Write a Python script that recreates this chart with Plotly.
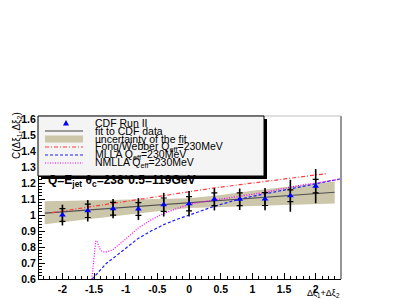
import plotly.graph_objects as go

# ---------------- data ----------------
x_pts = [-2.0, -1.6, -1.2, -0.8, -0.4, 0.0, 0.4, 0.8, 1.2, 1.6, 2.0]
c_pts = [1.000, 1.027, 1.040, 1.038, 1.065, 1.071, 1.099, 1.099, 1.100, 1.121, 1.181]
err_tot = [0.065, 0.067, 0.060, 0.068, 0.074, 0.080, 0.070, 0.067, 0.070, 0.100, 0.107]
err_stat = [0.040, 0.042, 0.040, 0.040, 0.042, 0.045, 0.040, 0.040, 0.040, 0.037, 0.042]

fit_x = [-2.28, 2.30]
fit_y = [1.012, 1.143]

band_x = [-2.28, -1.6, -1.0, -0.5, 0.0, 0.5, 1.0, 1.6, 2.30]
band_hi = [1.087, 1.091, 1.096, 1.100, 1.106, 1.126, 1.152, 1.180, 1.210]
band_lo = [0.942, 0.970, 1.000, 1.024, 1.044, 1.051, 1.057, 1.064, 1.073]

fw_x = [-2.17, -1.6, -1.2, -0.8, -0.4, 0.0, 0.4, 0.8, 1.2, 1.6, 2.18]
fw_y = [1.015, 1.050, 1.075, 1.097, 1.123, 1.148, 1.170, 1.190, 1.210, 1.228, 1.260]

mlla_x = [-1.53, -1.4, -1.3, -1.2, -1.0, -0.8, -0.6, -0.4, -0.2, 0.0, 0.2, 0.4,
          0.6, 0.8, 1.0, 1.2, 1.4, 1.6, 1.8, 2.0, 2.2, 2.4]
mlla_y = [0.600, 0.660, 0.700, 0.730, 0.795, 0.855, 0.900, 0.940, 0.972, 1.000,
          1.028, 1.055, 1.078, 1.100, 1.117, 1.133, 1.150, 1.167, 1.183, 1.198,
          1.213, 1.227]

nmlla_x = [-1.535, -1.52, -1.505, -1.49, -1.475, -1.46, -1.445, -1.43, -1.41, -1.38,
           -1.34, -1.3, -1.25, -1.2, -1.1, -1.0, -0.9, -0.8, -0.6, -0.4, -0.2, 0.0,
           0.2, 0.4, 0.6, 0.8, 1.0, 1.2, 1.4, 1.6, 1.8, 2.0, 2.2, 2.4]
nmlla_y = [0.600, 0.660, 0.730, 0.800, 0.835, 0.840, 0.830, 0.810, 0.790, 0.775,
           0.770, 0.770, 0.775, 0.785, 0.815, 0.850, 0.885, 0.920, 0.970, 1.010,
           1.040, 1.067, 1.082, 1.094, 1.106, 1.117, 1.130, 1.142, 1.160, 1.177,
           1.190, 1.200, 1.213, 1.226]

x_tickvals = [-2, -1.5, -1, -0.5, 0, 0.5, 1, 1.5, 2]
x_ticktext = ["-2", "-1.5", "-1", "-0.5", "0", "0.5", "1", "1.5", "2"]
y_tickvals = [0.6, 0.7, 0.8, 0.9, 1.0, 1.1, 1.2, 1.3, 1.4, 1.5, 1.6]
y_ticktext = ["0.6", "0.7", "0.8", "0.9", "1", "1.1", "1.2", "1.3", "1.4", "1.5", "1.6"]

legend_labels = [
    "CDF Run II",
    "fit to CDF data",
    "uncertainty of the fit",
    "Fong/Webber Q<sub>eff</sub>=230MeV",
    "MLLA Q<sub>eff</sub>=230MeV",
    "NMLLA Q<sub>eff</sub>=230MeV",
]

# ---------------- styles ----------------
RED = "rgb(255,60,60)"
BLUE = "rgb(30,30,255)"
MAG = "rgb(255,0,255)"
BAND = "rgb(204,198,170)"
FIT = "rgb(80,80,80)"
FONT = "Liberation Sans, Arial, sans-serif"

# page body margin offsets the figure by 8 px; positions below are page pixels
OFF = 8
W, H = 409 - OFF, 300 - OFF
L, R, T, B = 39, 341, 116, 279   # plot frame in page pixels


def px(x):
    return (x - L) / (R - L)


def py(y):
    return (B - y) / (B - T)


fig = go.Figure()

fig.add_trace(go.Scatter(
    x=band_x + band_x[::-1], y=band_hi + band_lo[::-1],
    fill="toself", fillcolor=BAND, line=dict(width=0), mode="lines",
    hoverinfo="skip", showlegend=False))

fig.add_trace(go.Scatter(x=fit_x, y=fit_y, mode="lines",
                         line=dict(color=FIT, width=1.2), showlegend=False))

fig.add_trace(go.Scatter(x=fw_x, y=fw_y, mode="lines",
                         line=dict(color=RED, width=1.2, dash="4px,2px,1px,2px"),
                         showlegend=False))
fig.add_trace(go.Scatter(x=mlla_x, y=mlla_y, mode="lines",
                         line=dict(color=BLUE, width=1.2, dash="3px,2px"),
                         showlegend=False))
fig.add_trace(go.Scatter(x=nmlla_x, y=nmlla_y, mode="lines",
                         line=dict(color=MAG, width=1.2, dash="1px,1.5px"),
                         showlegend=False))

fig.add_trace(go.Scatter(
    x=x_pts, y=c_pts, mode="markers",
    marker=dict(size=1, color="rgba(0,0,0,0)"),
    error_y=dict(type="data", array=err_tot, color="black", thickness=1.6, width=0),
    showlegend=False))
fig.add_trace(go.Scatter(
    x=x_pts, y=c_pts, mode="markers",
    marker=dict(size=1, color="rgba(0,0,0,0)"),
    error_y=dict(type="data", array=err_stat, color="black", thickness=1.2, width=3),
    showlegend=False))
fig.add_trace(go.Scatter(
    x=x_pts, y=c_pts, mode="markers",
    marker=dict(symbol="triangle-up", size=6, color="rgb(0,0,255)",
                line=dict(width=0)),
    showlegend=False))

shapes = []
# frame right / top
shapes.append(dict(type="line", xref="paper", yref="paper", x0=1, x1=1, y0=0, y1=1,
                   line=dict(color="rgb(150,150,150)", width=2)))
shapes.append(dict(type="line", xref="paper", yref="paper", x0=0, x1=1, y0=1, y1=1,
                   line=dict(color="rgb(190,190,190)", width=1)))
# legend box with shadow
shapes.append(dict(type="rect", xref="paper", yref="paper",
                   x0=px(41), x1=px(267), y0=py(179), y1=py(119),
                   fillcolor="black", line=dict(width=0)))
shapes.append(dict(type="rect", xref="paper", yref="paper",
                   x0=px(38), x1=px(264), y0=py(176), y1=py(116),
                   fillcolor="rgb(244,244,244)", line=dict(color="black", width=1)))

rows = [123, 131, 139, 147, 155, 163]
sx0, sx1 = 45, 83
tx, ty = 66, rows[0]
shapes.append(dict(type="path", xref="paper", yref="paper",
                   path=f"M {px(tx-3)},{py(ty+2.5)} L {px(tx+3)},{py(ty+2.5)} L {px(tx)},{py(ty-3)} Z",
                   fillcolor="rgb(0,0,255)", line=dict(width=0)))
shapes.append(dict(type="line", xref="paper", yref="paper",
                   x0=px(sx0), x1=px(sx1), y0=py(rows[1]), y1=py(rows[1]),
                   line=dict(color="rgb(155,155,155)", width=2)))
shapes.append(dict(type="rect", xref="paper", yref="paper",
                   x0=px(sx0), x1=px(sx1), y0=py(rows[2] + 3.5), y1=py(rows[2] - 3.5),
                   fillcolor=BAND, line=dict(width=0)))
shapes.append(dict(type="line", xref="paper", yref="paper",
                   x0=px(sx0), x1=px(sx1), y0=py(rows[3]), y1=py(rows[3]),
                   line=dict(color=RED, width=1.2, dash="4px,2px,1px,2px")))
shapes.append(dict(type="line", xref="paper", yref="paper",
                   x0=px(sx0), x1=px(sx1), y0=py(rows[4]), y1=py(rows[4]),
                   line=dict(color=BLUE, width=1.2, dash="3px,2px")))
shapes.append(dict(type="line", xref="paper", yref="paper",
                   x0=px(sx0), x1=px(sx1), y0=py(rows[5]), y1=py(rows[5]),
                   line=dict(color=MAG, width=1.2, dash="1px,1.5px")))

annotations = []
for lab, ry in zip(legend_labels, rows):
    annotations.append(dict(text=lab, xref="paper", yref="paper", x=px(93), y=py(ry),
                            xanchor="left", yanchor="middle", showarrow=False,
                            font=dict(family=FONT, size=10.5, color="black")))

annotations.append(dict(
    text="Q=E<sub>jet</sub> θ<sub>c</sub>=238*0.5=119GeV", xref="paper", yref="paper",
    x=px(46), y=py(181), xanchor="left", yanchor="middle", showarrow=False,
    font=dict(family=FONT, size=12, color="black", weight="bold")))

annotations.append(dict(
    text="C(Δξ<sub>1</sub>,Δξ<sub>2</sub>)", xref="paper", yref="paper",
    x=px(OFF + 1), y=py(136), xanchor="left", yanchor="middle", textangle=-90,
    showarrow=False, font=dict(family=FONT, size=10, color="black")))

annotations.append(dict(
    text="Δξ<sub>1</sub>+Δξ<sub>2</sub>", xref="paper", yref="paper",
    x=px(342), y=py(293), xanchor="right", yanchor="middle",
    showarrow=False, font=dict(family=FONT, size=9, color="black")))

fig.update_layout(
    width=W, height=H,
    margin=dict(l=L - OFF, r=W - (R - OFF), t=T - OFF, b=H - (B - OFF), autoexpand=False),
    paper_bgcolor="white", plot_bgcolor="white",
    showlegend=False,
    shapes=shapes, annotations=annotations,
    xaxis=dict(range=[-2.37, 2.40], tickvals=x_tickvals, ticktext=x_ticktext,
               ticks="inside", ticklen=6, tickcolor="black", tickwidth=1,
               minor=dict(ticks="inside", ticklen=3, dtick=0.1, tick0=0,
                          tickcolor="black", showgrid=False),
               showgrid=False, zeroline=False, showline=True, linecolor="black",
               linewidth=1,
               tickfont=dict(family=FONT, size=10.5, color="black", weight="bold")),
    yaxis=dict(range=[0.6, 1.62], tickvals=y_tickvals, ticktext=y_ticktext,
               ticks="inside", ticklen=6, tickcolor="black", tickwidth=1,
               minor=dict(ticks="inside", ticklen=3, dtick=0.02, tick0=0,
                          tickcolor="black", showgrid=False),
               showgrid=False, zeroline=False, showline=True, linecolor="black",
               linewidth=1,
               tickfont=dict(family=FONT, size=10.5, color="black", weight="bold")),
)

fig.write_html("out.html")
